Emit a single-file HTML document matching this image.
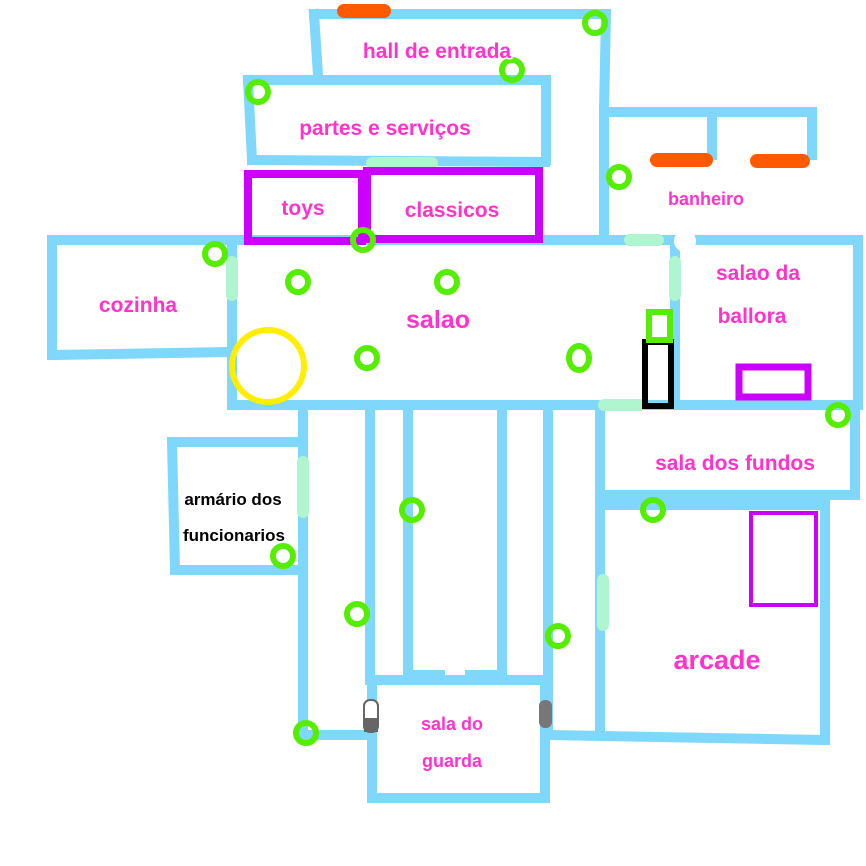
<!DOCTYPE html>
<html><head><meta charset="utf-8"><style>html,body{margin:0;padding:0;background:#fff}svg{display:block}</style></head>
<body>
<svg width="866" height="866" viewBox="0 0 866 866" xmlns="http://www.w3.org/2000/svg" font-family="Liberation Sans, sans-serif">
<g fill="none" stroke="#7fd7fb" stroke-width="10" stroke-linecap="square">
<path d="M314 14 L606 14 L604 110"/>
<path d="M314 14 L318 75"/>
<path d="M248 80 L546 80 L546 160"/>
<path d="M248 80 L252 160"/>
<path d="M252 160 L545 162"/>
<path d="M606 112 L812 112 L812 155"/>
<path d="M712 112 L712 155"/>
<path d="M604 110 L604 240"/>
<path d="M52 240 L858 240 L858 405"/>
<path d="M232 405 L858 405"/>
<path d="M232 240 L232 405"/>
<path d="M52 240 L52 355 L232 352"/>
<path d="M675 240 L675 405"/>
<path d="M855 405 L855 495 L600 495"/>
<path d="M600 405 L600 735"/>
<path d="M600 505 L825 505 L825 740 L548 735"/>
<path d="M303 405 L303 735 L370 735"/>
<path d="M370 405 L370 680"/>
<path d="M408 405 L408 675 L440 675"/>
<path d="M502 405 L502 675 L470 675"/>
<path d="M548 405 L548 735"/>
<path d="M303 442 L172 442 L175 570 L300 570"/>
<path d="M372 680 L545 680 L545 798 L372 798 Z"/>
</g>
<g stroke="#aef5d0" stroke-width="12" stroke-linecap="round">
<line x1="372" y1="163" x2="432" y2="163"/>
<line x1="232" y1="262" x2="232" y2="295"/>
<line x1="675" y1="262" x2="675" y2="295"/>
<line x1="630" y1="240" x2="658" y2="240"/>
<line x1="604" y1="405" x2="640" y2="405"/>
<line x1="303" y1="462" x2="303" y2="512"/>
<line x1="603" y1="580" x2="603" y2="625"/>
</g>
<g stroke="#ff5a00" stroke-width="14" stroke-linecap="round">
<line x1="344" y1="11" x2="384" y2="11"/>
<line x1="657" y1="160" x2="706" y2="160"/>
<line x1="757" y1="161" x2="803" y2="161"/>
</g>
<g fill="none" stroke="#cc00ff" stroke-width="8">
<rect x="248" y="174" width="114" height="67"/>
<rect x="367" y="171" width="172" height="68"/>
<rect x="739" y="367" width="69" height="30" stroke-width="7"/>
<rect x="751" y="513" width="65" height="92" stroke-width="4"/>
</g>
<circle cx="268" cy="366" r="36" fill="none" stroke="#ffee00" stroke-width="6"/>
<rect x="645" y="342" width="26" height="64" fill="none" stroke="#000" stroke-width="6"/>
<rect x="649" y="312" width="21" height="28" fill="none" stroke="#55ee00" stroke-width="6"/>
<circle cx="685" cy="241" r="11" fill="#fff"/>
<rect x="364" y="700" width="14" height="32" rx="6" fill="#fff" stroke="#666" stroke-width="2"/>
<rect x="364" y="718" width="14" height="14" fill="#666"/>
<rect x="539" y="700" width="13" height="28" rx="6" fill="#777"/>
<g fill="none" stroke="#55ee00" stroke-width="6">
<circle cx="595" cy="23" r="10"/>
<circle cx="512" cy="70" r="10"/>
<circle cx="258" cy="92" r="10"/>
<circle cx="619" cy="177" r="10"/>
<circle cx="363" cy="240" r="10"/>
<circle cx="215" cy="254" r="10"/>
<circle cx="298" cy="282" r="10"/>
<circle cx="447" cy="282" r="10"/>
<circle cx="367" cy="358" r="10"/>
<ellipse cx="579" cy="358" rx="10" ry="12"/>
<circle cx="838" cy="415" r="10"/>
<circle cx="412" cy="510" r="10"/>
<circle cx="653" cy="510" r="10"/>
<circle cx="283" cy="556" r="10"/>
<circle cx="357" cy="614" r="10"/>
<circle cx="558" cy="636" r="10"/>
<circle cx="306" cy="733" r="10"/>
</g>
<g fill="#ff33cc" stroke="#fff" stroke-width="3" paint-order="stroke" text-anchor="middle" font-size="21" font-weight="bold">
<text x="437" y="58">hall de entrada</text>
<text x="385" y="135">partes e serviços</text>
<text x="303" y="215">toys</text>
<text x="452" y="217">classicos</text>
<text x="706" y="205" font-size="18">banheiro</text>
<text x="138" y="312">cozinha</text>
<text x="438" y="328" font-size="25">salao</text>
<text x="758" y="280">salao da</text>
<text x="752" y="323">ballora</text>
<text x="735" y="470">sala dos fundos</text>
<text x="717" y="669" font-size="27">arcade</text>
<text x="452" y="730" font-size="18">sala do</text>
<text x="452" y="767" font-size="18">guarda</text>
</g>
<g fill="#000" stroke="#fff" stroke-width="3" paint-order="stroke" text-anchor="middle" font-size="17" font-weight="bold">
<text x="233" y="505">armário dos</text>
<text x="234" y="541">funcionarios</text>
</g>
</svg>
</body></html>
